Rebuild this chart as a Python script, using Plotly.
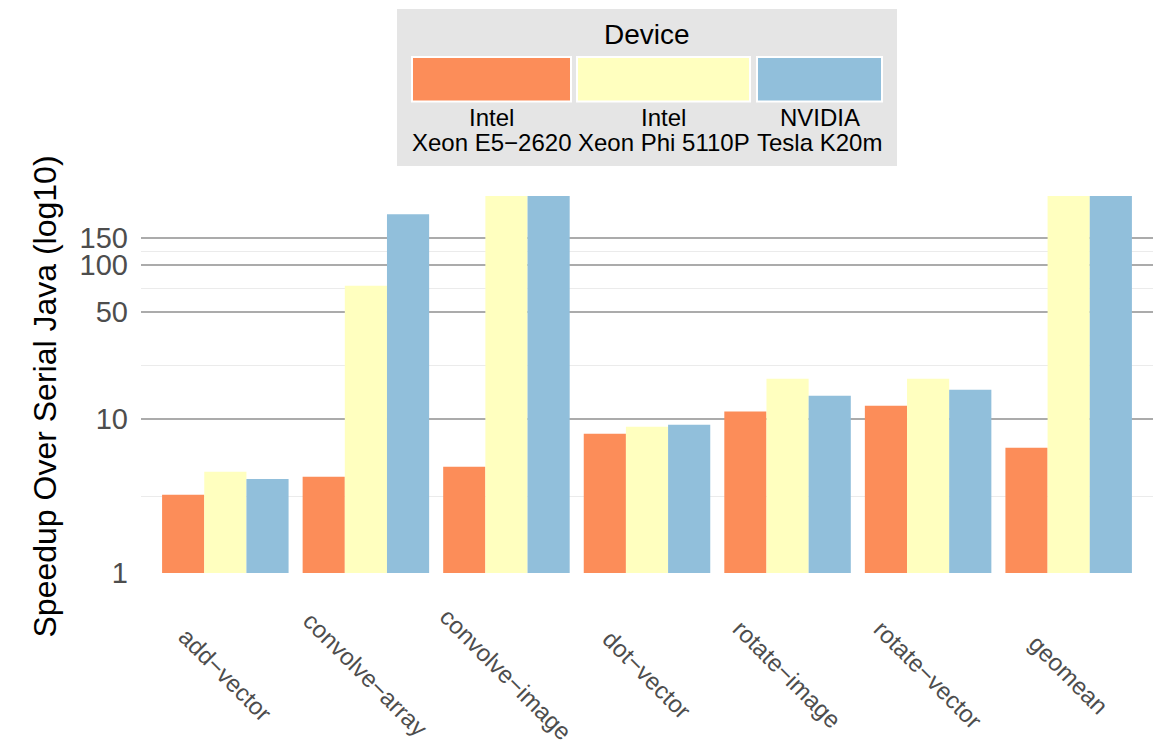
import math
import plotly.graph_objects as go

# ---- data ----
benchmarks = ["add−vector", "convolve−array", "convolve−image", "dot−vector",
              "rotate−image", "rotate−vector", "geomean"]
devices = ["Intel<br>Xeon E5−2620", "Intel<br>Xeon Phi 5110P", "NVIDIA<br>Tesla K20m"]
device_line1 = ["Intel", "Intel", "NVIDIA"]
device_line2 = ["Xeon E5−2620", "Xeon Phi 5110P", "Tesla K20m"]
xeon_e5 = [3.22, 4.22, 4.90, 8.04, 11.2, 12.2, 6.52]
xeon_phi = [4.55, 73.5, 400.0, 8.91, 18.3, 18.3, 320.0]
tesla_k20m = [4.09, 215.0, 450.0, 9.19, 14.2, 15.5, 330.0]
series = [xeon_e5, xeon_phi, tesla_k20m]
colors = ["#fc8d59", "#ffffbf", "#91bfdb"]
y_tickvals = [1, 10, 50, 100, 150]
y_ticktext = ["1", "10", "50", "100", "150"]
y_minor = [3.162, 22.36, 70.71, 122.5]
y_title = "Speedup Over Serial Java (log10)"

W, H = 1162, 754
L, R, T, B = 141, 9, 196, 181
PW, PH = W - L - R, H - T - B
FONT = "Liberation Sans, Arial, Helvetica, sans-serif"


def px(xp):
    return (xp - L) / PW


def py(yp):
    return (H - B - yp) / PH


fig = go.Figure()
for name, vals, col in zip(devices, series, colors):
    fig.add_trace(go.Bar(x=benchmarks, y=vals, name=name.replace("<br>", " "),
                         marker=dict(color=col, line=dict(width=0)),
                         showlegend=False))

shapes = []
annotations = []

# custom legend (keys with labels underneath)
shapes.append(dict(type="rect", xref="paper", yref="paper",
                   x0=px(397), x1=px(897), y0=py(166), y1=py(9),
                   fillcolor="#e5e5e5", line=dict(width=0), layer="above"))
annotations.append(dict(text="Device", xref="paper", yref="paper",
                        x=px(647), y=py(35), xanchor="center", yanchor="middle",
                        showarrow=False, font=dict(size=28, color="black", family=FONT)))
key_edges = [(412, 571), (577, 750), (757, 882)]
for (k0, k1), col, l1, l2 in zip(key_edges, colors, device_line1, device_line2):
    shapes.append(dict(type="rect", xref="paper", yref="paper",
                       x0=px(k0), x1=px(k1), y0=py(101.5), y1=py(57),
                       fillcolor=col, line=dict(color="white", width=2), layer="above"))
    cx = (k0 + k1) / 2
    annotations.append(dict(text=l1, xref="paper", yref="paper", x=px(cx), y=py(117),
                            xanchor="center", yanchor="middle", showarrow=False,
                            font=dict(size=24, color="black", family=FONT)))
    annotations.append(dict(text=l2, xref="paper", yref="paper", x=px(cx), y=py(142),
                            xanchor="center", yanchor="middle", showarrow=False,
                            font=dict(size=24, color="black", family=FONT)))

# rotated category labels
for b in benchmarks:
    annotations.append(dict(text=b, xref="x", yref="paper", x=b, y=py(674),
                            xanchor="center", yanchor="middle", textangle=45,
                            showarrow=False,
                            font=dict(size=24, color="#4d4d4d", family=FONT)))

# y-axis title (placed as in the reference, slightly below the panel centre)
annotations.append(dict(text=y_title, xref="paper", yref="paper",
                        x=px(44), y=py(396.5), xanchor="center", yanchor="middle",
                        textangle=-90, showarrow=False,
                        font=dict(size=32, color="black", family=FONT)))

fig.update_layout(
    width=W, height=H,
    margin=dict(l=L, r=R, t=T, b=B, pad=0),
    paper_bgcolor="white", plot_bgcolor="white",
    barmode="group", bargap=0.1, bargroupgap=0,
    font=dict(family=FONT, color="black"),
    shapes=shapes, annotations=annotations,
    showlegend=False,
)
fig.update_xaxes(range=[-0.6, 6.6], showgrid=False, showticklabels=False,
                 ticks="", showline=False, zeroline=False)
fig.update_yaxes(type="log", range=[0, math.log10(282)],
                 tickmode="array", tickvals=y_tickvals, ticktext=y_ticktext,
                 tickfont=dict(size=29, color="#4d4d4d", family=FONT),
                 ticks="", ticklabelstandoff=12,
                 showgrid=True, gridcolor="#ababab", gridwidth=2,
                 minor=dict(tickmode="array", tickvals=y_minor, showgrid=True,
                            gridcolor="#ebebeb", gridwidth=1, ticks=""),
                 showline=False, zeroline=False)

fig.write_html("out.html")
